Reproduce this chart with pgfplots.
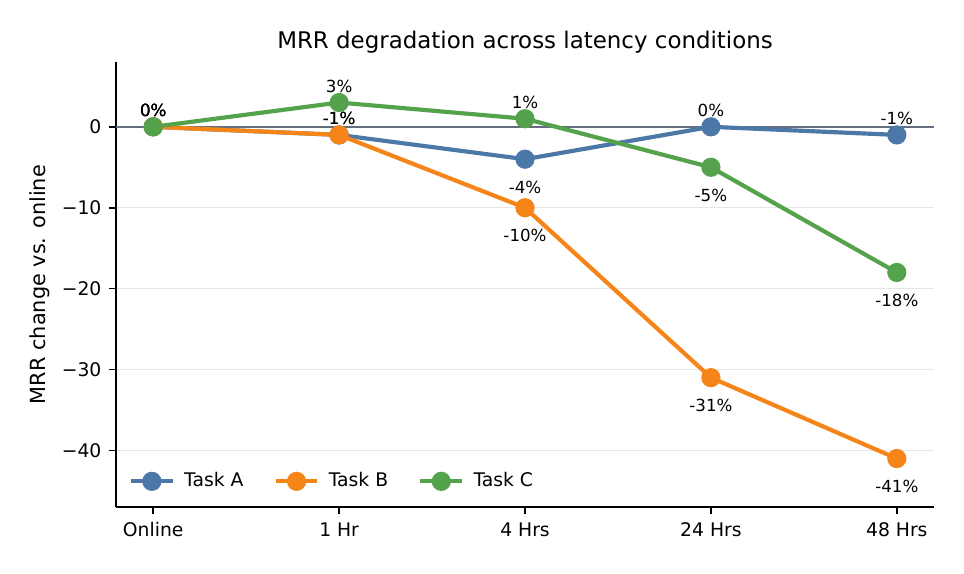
\documentclass[border=0pt]{standalone}
\usepackage{fontspec}
\setmainfont{DejaVu Sans}
\usepackage{pgfplots}
\pgfplotsset{compat=1.18}
\usepackage{pgfplotstable}
\definecolor{cA}{HTML}{4C78A8}
\definecolor{cB}{HTML}{F58518}
\definecolor{cC}{HTML}{54A24B}
\definecolor{zeroline}{RGB}{100,110,128}
\definecolor{gridc}{RGB}{230,230,230}

\pgfplotstableread{
x y lab off
0 0 0 7.7
1 -1 -1 7.7
2 -4 -4 -13.4
3 0 0 7.7
4 -1 -1 7.7
}\taskA
\pgfplotstableread{
x y lab off
0 0 0 7.7
1 -1 -1 7.7
2 -10 -10 -13.4
3 -31 -31 -13.4
4 -41 -41 -13.4
}\taskB
\pgfplotstableread{
x y lab off
0 0 0 7.7
1 3 3 7.7
2 1 1 7.7
3 -5 -5 -13.4
4 -18 -18 -13.4
}\taskC

\pgfplotsset{
  serie/.style={line width=2pt, mark=*, mark size=3.6pt, mark options={solid},
    point meta=explicit symbolic,
    nodes near coords={\pgfplotspointmeta\%},
    visualization depends on={\thisrow{off} \as \myoff},
    every node near coord/.append style={anchor=center, yshift=\myoff pt, text=black, font=\fontsize{8}{10}\selectfont}},
}

\begin{document}
\begin{tikzpicture}
\path[use as bounding box] (-55.7pt,-31.7pt) rectangle (407.0pt,243.4pt);
\begin{axis}[
  at={(0,0)}, anchor=south west,
  scale only axis,
  width=392.6pt, height=213.6pt,
  xmin=-0.2, xmax=4.2,
  ymin=-47, ymax=8,
  xtick={0,1,2,3,4},
  xticklabels={Online,1 Hr,4 Hrs,24 Hrs,48 Hrs},
  ytick={-40,-30,-20,-10,0},
  yticklabels={−40,−30,−20,−10,0},
  axis x line*=bottom,
  axis y line*=left,
  axis line style={-, line width=0.8pt, black},
  tick align=outside,
  major tick length=3.5pt,
  tick style={line width=0.8pt, black},
  ticklabel style={font=\fontsize{9}{11}\selectfont},
  xticklabel style={text height=7pt, text depth=2pt},
  ymajorgrids,
  grid style={gridc, line width=0.5pt},
  title={MRR degradation across latency conditions},
  title style={font=\fontsize{11}{13}\selectfont, anchor=base, at={(0.5,1)}, yshift=0.7pt},
  ylabel={MRR change vs. online},
  ylabel style={font=\fontsize{10}{12}\selectfont, at={([xshift=-36.5pt]axis description cs:0,0.5)}, anchor=center},
  legend columns=3,
  legend style={at={(axis description cs:0,0)}, anchor=south west, xshift=4pt, yshift=4pt,
    draw=none, fill=none, font=\fontsize{9}{11}\selectfont, inner xsep=2pt,
    /tikz/every odd column/.append style={column sep=2.5pt},
    /tikz/every even column/.append style={column sep=12.5pt}},
  legend image code/.code={\draw[mark repeat=2,mark phase=2,#1] plot coordinates {(0pt,0pt)(10pt,0pt)(20pt,0pt)};},
]
\addplot[zeroline, line width=0.8pt, mark=none, forget plot] coordinates {(-0.2,0) (4.2,0)};
\addplot[cA, serie] table[x=x, y=y, meta=lab] {\taskA};
\addlegendentry{Task A}
\addplot[cB, serie] table[x=x, y=y, meta=lab] {\taskB};
\addlegendentry{Task B}
\addplot[cC, serie] table[x=x, y=y, meta=lab] {\taskC};
\addlegendentry{Task C}
\end{axis}
\end{tikzpicture}
\end{document}
